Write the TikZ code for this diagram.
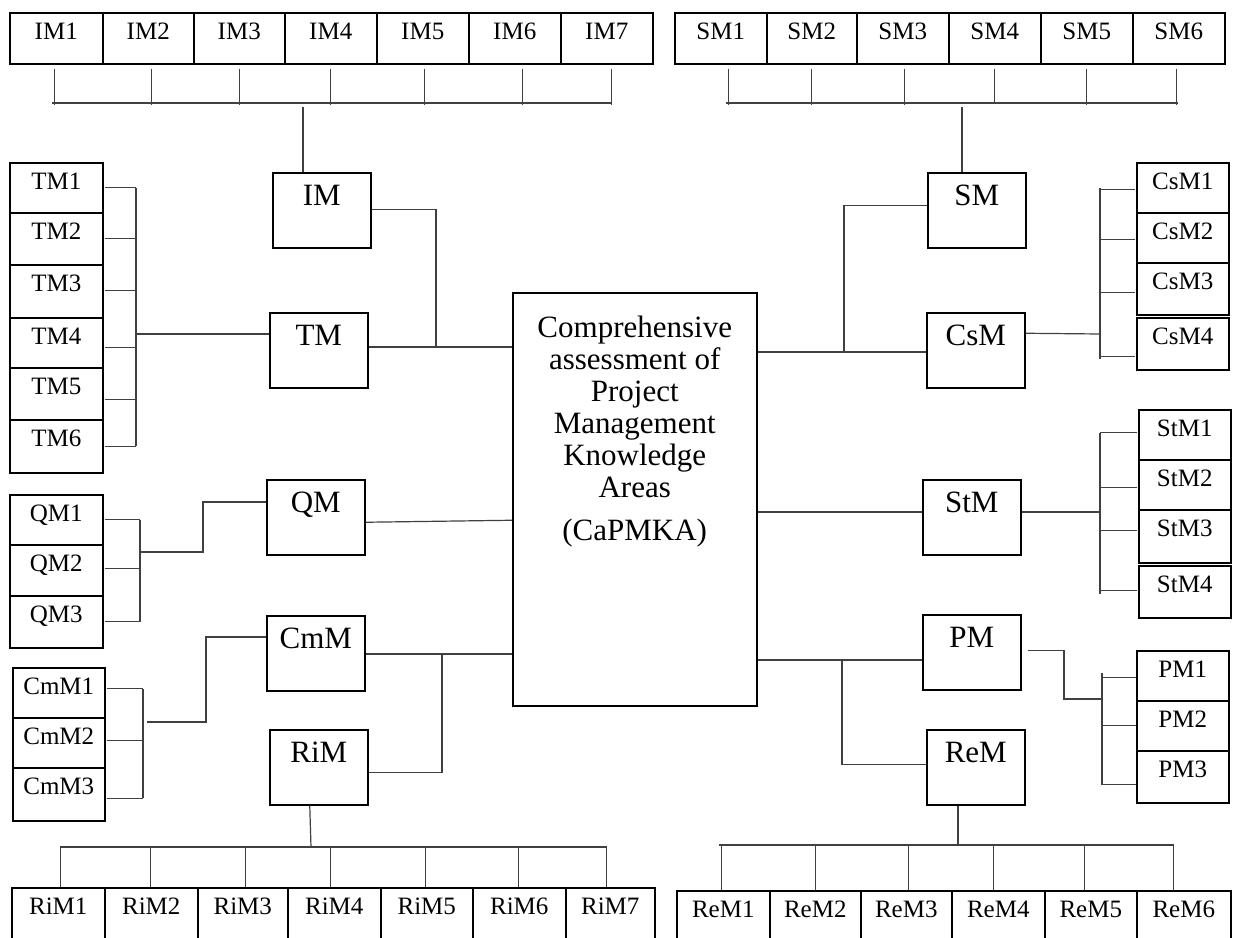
\documentclass[tikz,border=0pt]{standalone}
\usepackage{fontspec}
\setmainfont{Liberation Serif}
\usetikzlibrary{calc}
\begin{document}
\begin{tikzpicture}[x=1pt,y=-1pt,
  frame/.style={draw=black, line width=1.5pt, inner sep=0pt, anchor=north west},
  cell/.style 2 args={frame, font=\fontsize{25}{28}\selectfont,
    minimum width=#1pt, minimum height=#2pt, text height=27pt, text depth=#2pt-27pt},
  area/.style={frame, font=\fontsize{31}{36}\selectfont,
    minimum width=98pt, minimum height=75pt, text height=33pt, text depth=42pt},
  wire/.style={draw=black!75, line width=1.2pt},
]
\clip (0,0) rectangle (1234,937);

% ---------- central box ----------
\node[frame, minimum width=244pt, minimum height=413pt] (core) at (512,292) {};
\node[anchor=north, align=center, inner sep=0pt, font=\fontsize{31}{32}\selectfont]
  (coretext) at ([yshift=-24pt]core.north)
  {Comprehensive\\assessment of\\Project\\Management\\Knowledge\\Areas\\[11pt](CaPMKA)};

% ---------- knowledge-area boxes ----------
\node[area] (IM)  at (272,172) {IM};
\node[area] (TM)  at (269,312) {TM};
\node[area] (QM)  at (266,479) {QM};
\node[area] (CmM) at (266,615) {CmM};
\node[area] (RiM) at (269,729) {RiM};
\node[area] (SM)  at (927,172) {SM};
\node[area] (CsM) at (926,312) {CsM};
\node[area] (StM) at (922,479) {StM};
\node[area] (PM)  at (922,614) {PM};
\node[area] (ReM) at (926,729) {ReM};

% ---------- top rows ----------
\node[cell={93}{51}] (IM1) at (9,12)   {IM1};
\node[cell={91}{51}] (IM2) at (102,12) {IM2};
\node[cell={91}{51}] (IM3) at (193,12) {IM3};
\node[cell={92}{51}] (IM4) at (284,12) {IM4};
\node[cell={92}{51}] (IM5) at (376,12) {IM5};
\node[cell={92}{51}] (IM6) at (468,12) {IM6};
\node[cell={92}{51}] (IM7) at (560,12) {IM7};

\node[cell={92}{51}] (SM1) at (674,12)  {SM1};
\node[cell={90}{51}] (SM2) at (766,12)  {SM2};
\node[cell={92}{51}] (SM3) at (856,12)  {SM3};
\node[cell={92}{51}] (SM4) at (948,12)  {SM4};
\node[cell={92}{51}] (SM5) at (1040,12) {SM5};
\node[cell={92}{51}] (SM6) at (1132,12) {SM6};

% ---------- left stacks ----------
\node[cell={93}{50}] (TM1) at (9,162) {TM1};
\node[cell={93}{52}] (TM2) at (9,212) {TM2};
\node[cell={93}{53}] (TM3) at (9,264) {TM3};
\node[cell={93}{50}] (TM4) at (9,317) {TM4};
\node[cell={93}{52}] (TM5) at (9,367) {TM5};
\node[cell={93}{53}] (TM6) at (9,419) {TM6};

\node[cell={93}{50}] (QM1) at (9,494) {QM1};
\node[cell={93}{51}] (QM2) at (9,544) {QM2};
\node[cell={93}{52}] (QM3) at (9,595) {QM3};

\node[cell={92}{50}] (CmM1) at (12,667) {CmM1};
\node[cell={92}{50}] (CmM2) at (12,717) {CmM2};
\node[cell={92}{53}] (CmM3) at (12,767) {CmM3};

% ---------- right stacks ----------
\node[cell={92}{50}] (CsM1) at (1136,162) {CsM1};
\node[cell={92}{50}] (CsM2) at (1136,212) {CsM2};
\node[cell={92}{52}] (CsM3) at (1136,262) {CsM3};
\node[cell={92}{52}] (CsM4) at (1136,317) {CsM4};

\node[cell={92}{50}] (StM1) at (1138,409) {StM1};
\node[cell={92}{50}] (StM2) at (1138,459) {StM2};
\node[cell={92}{53}] (StM3) at (1138,509) {StM3};
\node[cell={92}{52}] (StM4) at (1138,565) {StM4};

\node[cell={92}{50}] (PM1) at (1136,650) {PM1};
\node[cell={92}{50}] (PM2) at (1136,700) {PM2};
\node[cell={92}{52}] (PM3) at (1136,750) {PM3};

% ---------- bottom rows ----------
\node[cell={93}{60}] (RiM1) at (11,887)  {RiM1};
\node[cell={93}{60}] (RiM2) at (104,887) {RiM2};
\node[cell={90}{60}] (RiM3) at (197,887) {RiM3};
\node[cell={93}{60}] (RiM4) at (287,887) {RiM4};
\node[cell={92}{60}] (RiM5) at (380,887) {RiM5};
\node[cell={93}{60}] (RiM6) at (472,887) {RiM6};
\node[cell={89}{60}] (RiM7) at (565,887) {RiM7};

\node[cell={93}{60}] (ReM1) at (676,890)  {ReM1};
\node[cell={91}{60}] (ReM2) at (769,890)  {ReM2};
\node[cell={91}{60}] (ReM3) at (860,890)  {ReM3};
\node[cell={93}{60}] (ReM4) at (951,890)  {ReM4};
\node[cell={92}{60}] (ReM5) at (1044,890) {ReM5};
\node[cell={94}{60}] (ReM6) at (1136,890) {ReM6};

% ---------- junction points ----------
\coordinate (imbusL) at (52,103);   \coordinate (imbusR) at (611,103);
\coordinate (imtap)  at (303,103);
\coordinate (smbusL) at (726,103);  \coordinate (smbusR) at (1178,103);
\coordinate (smtap)  at (962,103);
\coordinate (rimbusL) at (60,847);  \coordinate (rimbusR) at (607,847);
\coordinate (rimtap)  at (311,847);
\coordinate (rembusL) at (719,845); \coordinate (rembusR) at (1174,845);
\coordinate (remtap)  at (958,845);

\coordinate (imj)  at (436,347);
\coordinate (smj)  at (844,352);
\coordinate (stj)  at (1100,512);
\coordinate (pmj)  at (842,660);
\coordinate (pmk)  at (1064,699);
\coordinate (cmj)  at (442,654);
\coordinate (qmk1) at (140,552);  \coordinate (qmk2) at (203,502);
\coordinate (cmk1) at (143,722);  \coordinate (cmk2) at (206,637);
\coordinate (tmj)  at (136,334);
\coordinate (csj)  at (1100,334);

% ---------- IM row bus ----------
\draw[wire] (imbusL) -- (imbusR);
\draw[wire] (imtap) ++(0,4) -- (IM.north -| imtap);
\foreach \n/\dx in {1/-2,2/3,3/0,4/0,5/2,6/8,7/5}
  \draw[wire] ($(IM\n.south)+(\dx,4)$) -- ++(0,36);

% ---------- SM row bus ----------
\draw[wire] (smbusL) -- (smbusR);
\draw[wire] (smtap) ++(0,4) -- (SM.north -| smtap);
\foreach \n/\dx in {1/8,2/0,3/2,5/0,6/-2}
  \draw[wire] ($(SM\n.south)+(\dx,4)$) -- ++(0,36);
\draw[wire] ($(SM4.south)+(0,4)$) -- ++(0,33);

% ---------- RiM row bus ----------
\draw[wire] (rimbusL) -- (rimbusR);
\draw[wire] ($(RiM.south)+(-9,0)$) -- (rimtap);
\foreach \n/\dx in {1/2,2/-1,3/3,4/-4,5/-1,6/-1,7/-4}
  \draw[wire] ($(RiM\n.north)+(\dx,0)$) -- ++(0,-39);

% ---------- ReM row bus ----------
\draw[wire] (rembusL) -- (rembusR);
\draw[wire] (ReM.south -| remtap) -- (remtap);
\foreach \n/\dx in {1/-2,2/0,3/2,4/-5,5/-6,6/-10}
  \draw[wire] ($(ReM\n.north)+(\dx,0)$) -- ++(0,-45);

% ---------- IM / TM to the centre ----------
\draw[wire] ($(IM.east)+(0,-1)$) -| (imj);
\draw[wire] (TM.east |- imj) -- (core.west |- imj);

% ---------- TM bracket ----------
\draw[wire] (TM1.east -| tmj) -- (TM6.east -| tmj);
\foreach \n/\dy in {1/0,2/0,3/-1,4/5,5/6,6/0}
  \draw[wire] ($(TM\n.east)+(1,\dy)$) -- ($(TM\n.east -| tmj)+(0,\dy)$);
\draw[wire] (tmj) -- (tmj -| TM.west);

% ---------- QM ----------
\draw[wire] (QM1.east -| qmk1) -- (QM3.east -| qmk1);
\foreach \n/\dy in {1/0,2/-2,3/0}
  \draw[wire] ($(QM\n.east)+(1,\dy)$) -- ($(QM\n.east -| qmk1)+(0,\dy)$);
\draw[wire] (qmk1) -| (qmk2) -- (qmk2 -| QM.west);
\draw[wire] ($(QM.east)+(0,5)$) -- ($(core.west)+(0,21)$);

% ---------- CmM and RiM ----------
\draw[wire] ($(CmM1.east -| cmk1)+(0,-4)$) -- ($(CmM3.east -| cmk1)+(0,4)$);
\foreach \n/\dy in {1/-4,2/-2,3/4}
  \draw[wire] ($(CmM\n.east)+(1,\dy)$) -- ($(CmM\n.east -| cmk1)+(0,\dy)$);
\draw[wire] ($(cmk1)+(4,0)$) -| (cmk2) -- (cmk2 -| CmM.west);
\draw[wire] (CmM.east |- cmj) -- (core.west |- cmj);
\draw[wire] ($(RiM.east)+(0,5)$) -| (cmj);

% ---------- SM / CsM ----------
\draw[wire] ($(SM.west)+(0,-5)$) -| (smj);
\draw[wire] (core.east |- smj) -- (CsM.west |- smj);
\draw[wire] ($(CsM.east)+(0,-17)$) -- (csj);
\draw[wire] (CsM1.west -| csj) -- ($(CsM4.west -| csj)+(0,15)$);
\foreach \n/\dy in {1/2,2/2,3/4,4/13}
  \draw[wire] ($(CsM\n.west)+(-1,\dy)$) -- ($(CsM\n.west -| csj)+(0,\dy)$);

% ---------- StM ----------
\draw[wire] (core.east |- stj) -- (StM.west |- stj);
\draw[wire] (StM.east |- stj) -- (stj);
\draw[wire] ($(StM1.west -| stj)+(0,-2)$) -- ($(StM4.west -| stj)+(0,2)$);
\foreach \n/\dy in {1/-2,2/3,3/-6,4/-1}
  \draw[wire] ($(StM\n.west)+(-1,\dy)$) -- ($(StM\n.west -| stj)+(0,\dy)$);

% ---------- PM / ReM ----------
\draw[wire] (core.east |- pmj) -- (pmj) -- (PM.west |- pmj);
\draw[wire] (pmj) |- ($(ReM.west)+(0,-3)$);
\draw[wire] ($(PM.east)+(6,-2)$) -| (pmk) -- ($(pmk)+(38,0)$);
\draw[wire] ($(PM1.west)+(-34,-3)$) -- ($(PM3.west)+(-34,8)$);
\foreach \n/\dy in {1/2,2/0,3/8}
  \draw[wire] ($(PM\n.west)+(0,\dy)$) -- ++(-34,0);

\end{tikzpicture}
\end{document}
